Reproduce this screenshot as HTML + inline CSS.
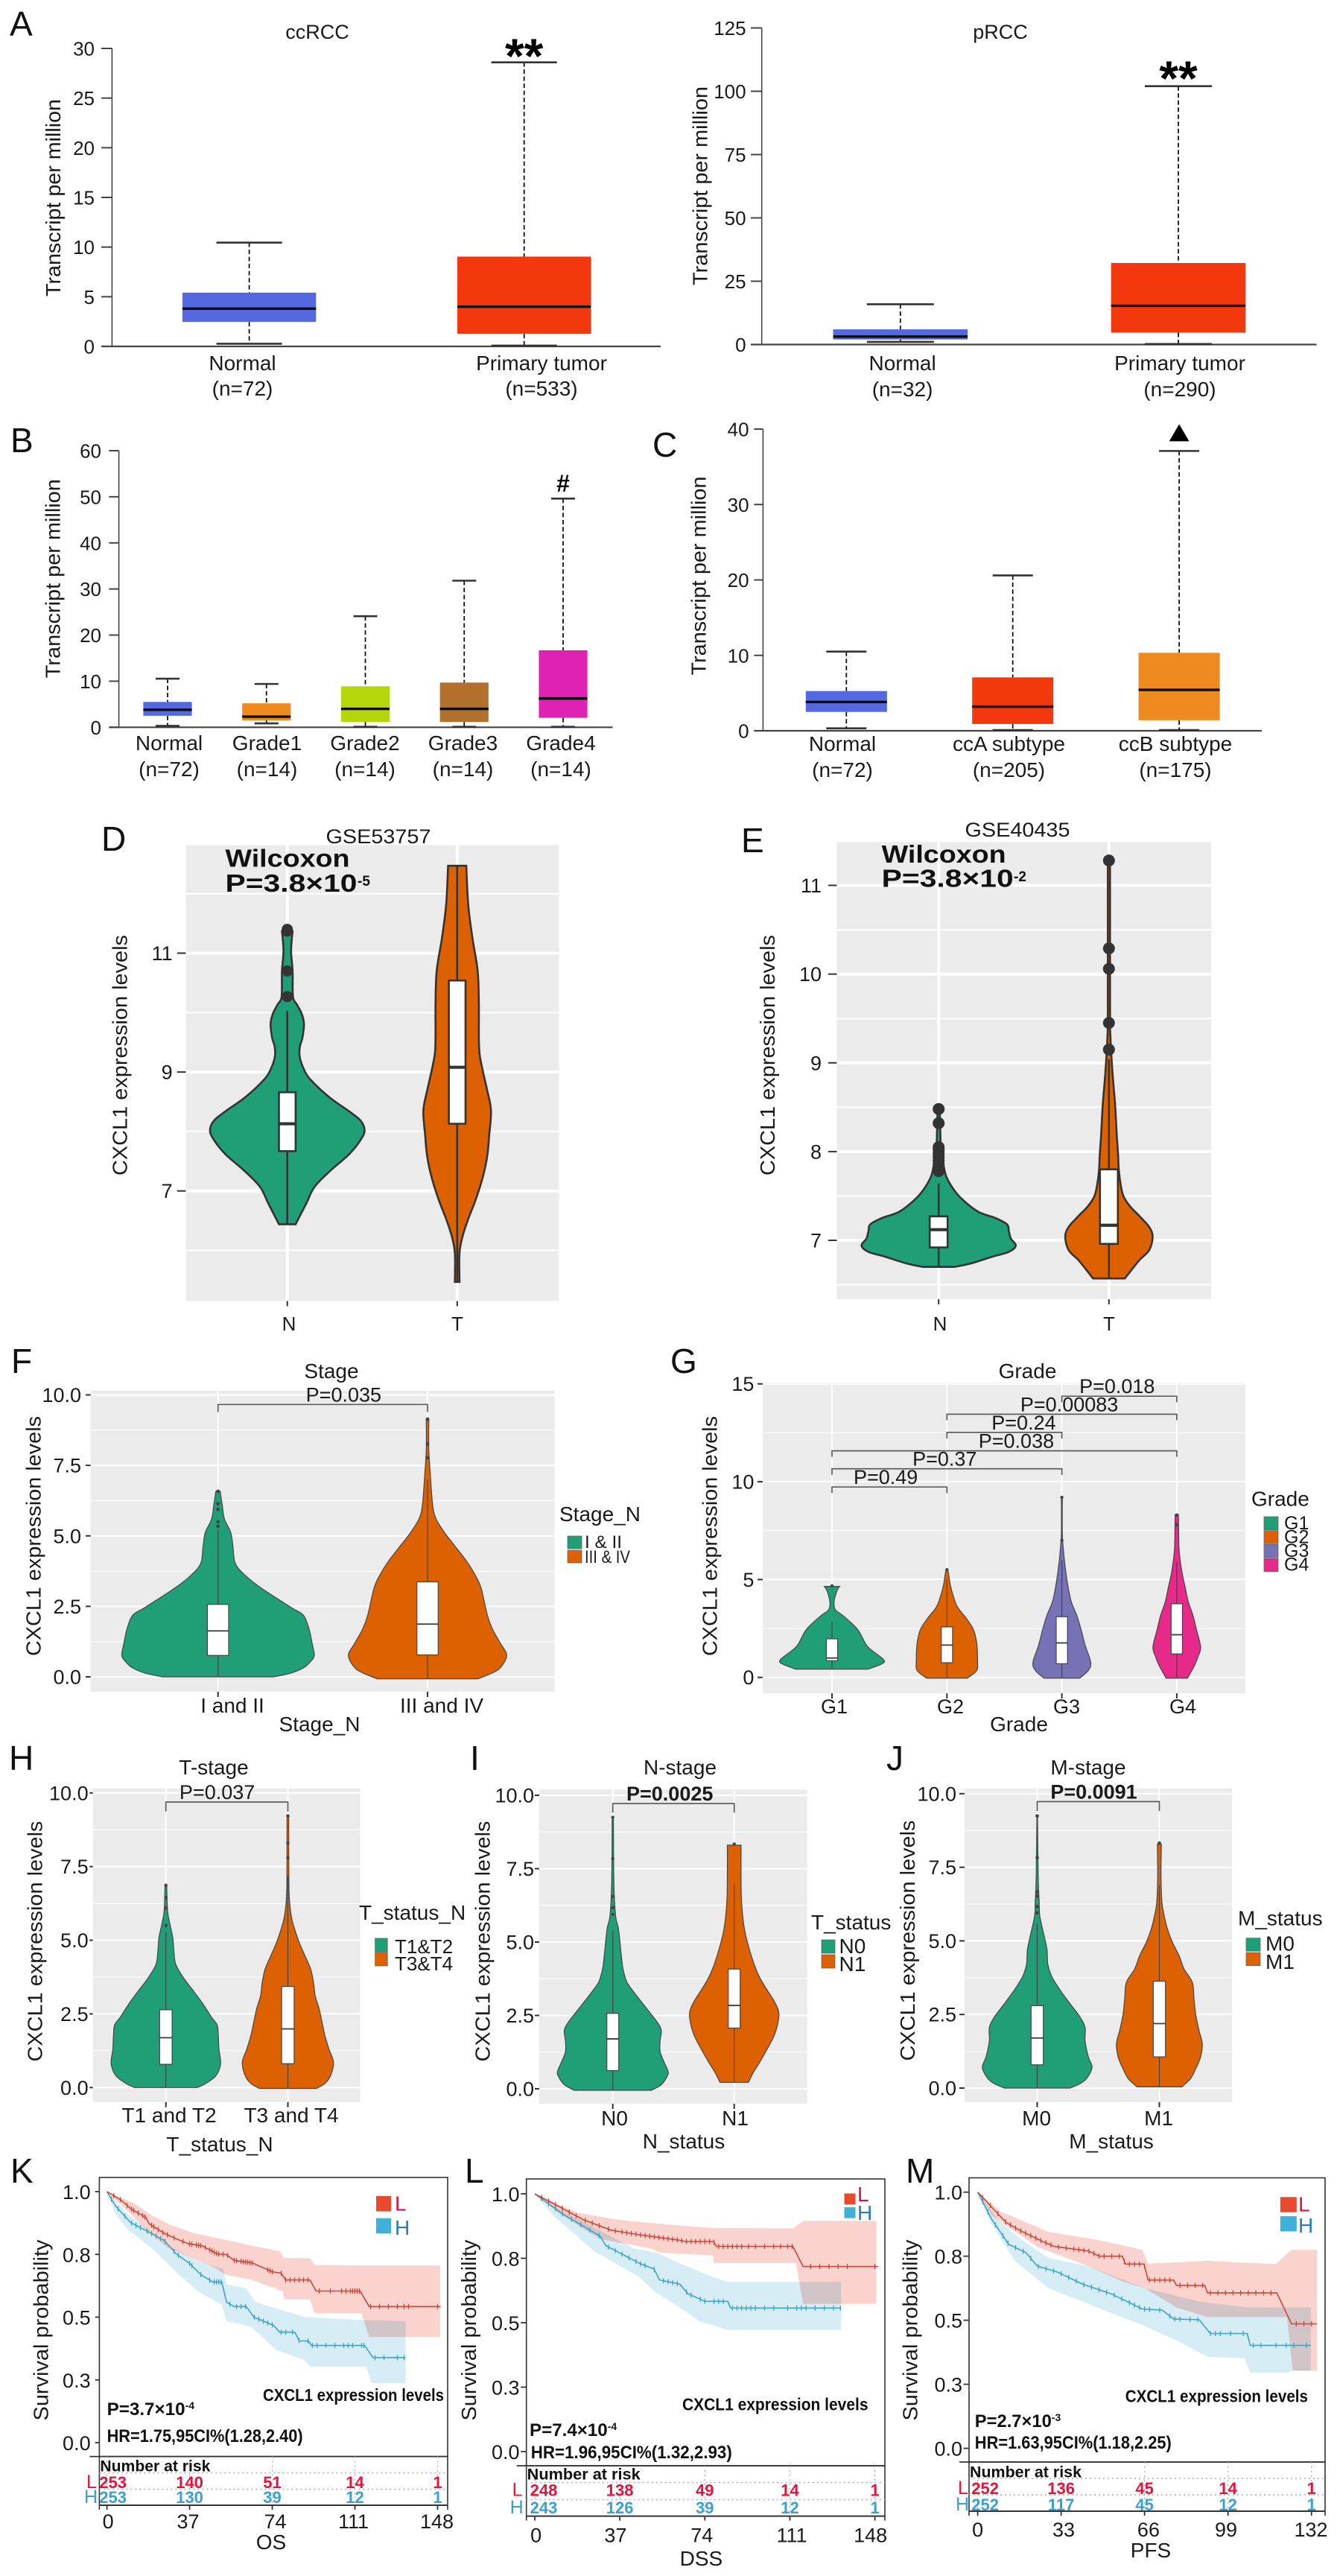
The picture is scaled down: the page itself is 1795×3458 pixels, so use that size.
<!DOCTYPE html>
<html lang="en">
<head>
<meta charset="utf-8">
<title>CXCL1 expression figure</title>
<style>
html,body{margin:0;padding:0;background:#fff;}
svg{display:block;}
text{font-family:"Liberation Sans",sans-serif;}
</style>
</head>
<body>
<svg id="figure" xmlns="http://www.w3.org/2000/svg" width="1795" height="3458" viewBox="0 0 1795 3458">
<rect x="0" y="0" width="1795" height="3458" fill="#ffffff"/>
<g id="panel-a1"></g>
<g id="panel-a2"></g>
<g id="panel-b"></g>
<g id="panel-c"></g>
<g id="panel-d"></g>
<g id="panel-e"></g>
<g id="panel-f"></g>
<g id="panel-g"></g>
<g id="panel-h"></g>
<g id="panel-i"></g>
<g id="panel-j"></g>
<g id="panel-k"></g>
<g id="panel-l"></g>
<g id="panel-m"></g>
</svg>
<script>
/* ---------- Panel A, B, C box plot data ---------- */
const a1Categories=['Normal','Primary tumor'];
const a1Counts=['(n=72)','(n=533)'];
const a1Ticks=[0,5,10,15,20,25,30];
const a1Low=[0.27,0.08];
const a1Q1=[2.46,1.26];
const a1Median=[3.8,4.0];
const a1Q3=[5.41,9.04];
const a1High=[10.45,28.6];

const a2Categories=['Normal','Primary tumor'];
const a2Counts=['(n=32)','(n=290)'];
const a2Ticks=[0,25,50,75,100,125];
const a2Low=[1.05,0.2];
const a2Q1=[2,4.7];
const a2Median=[3.15,15.3];
const a2Q3=[6,32.2];
const a2High=[15.9,102];

const bCategories=['Normal','Grade1','Grade2','Grade3','Grade4'];
const bCounts=['(n=72)','(n=14)','(n=14)','(n=14)','(n=14)'];
const bTicks=[0,10,20,30,40,50,60];
const bLow=[0.3,0.85,0.1,0.1,0.1];
const bQ1=[2.5,1.5,1.15,1.15,2.05];
const bMedian=[3.8,2.3,4,4,6.25];
const bQ3=[5.5,5.2,8.9,9.7,16.7];
const bHigh=[10.55,9.4,24.1,31.8,49.6];

const cCategories=['Normal','ccA subtype','ccB subtype'];
const cCounts=['(n=72)','(n=205)','(n=175)'];
const cTicks=[0,10,20,30,40];
const cLow=[0.33,0.1,0.1];
const cQ1=[2.5,0.9,1.4];
const cMedian=[3.82,3.2,5.43];
const cQ3=[5.27,7.08,10.34];
const cHigh=[10.5,20.6,37.1];

/* ---------- Panel D violin data ---------- */
const dCategories=['N','T'];
const dTicks=[7,9,11];
const dNLevels=[6.44,6.79,7.07,7.35,7.63,7.91,8.05,8.19,8.33,8.58,8.86,9.03,9.25,9.42,9.58,9.81,9.98,10.14,10.27,10.7,11.04,11.37];
const dNDensity=[0.22,0.5,0.72,1.15,1.65,1.98,2.03,1.92,1.65,1.1,0.63,0.45,0.33,0.33,0.4,0.44,0.38,0.25,0.15,0.14,0.1,0.14];
const dNBox=[7.67,8.13,8.66];
const dNWhisker=[6.44,10.03];
const dNOutliers=[10.27,10.7,11.37,11.4];
const dTLevels=[5.47,5.95,6.23,6.51,6.79,7.07,7.35,7.63,7.91,8.35,8.69,9.03,9.3,9.58,10.14,10.7,11.26,11.82,12.47];
const dTDensity=[0.06,0.06,0.14,0.28,0.45,0.6,0.72,0.8,0.84,0.89,0.79,0.67,0.59,0.57,0.57,0.54,0.4,0.29,0.24];
const dTBox=[8.13,9.08,10.54];
const dTWhisker=[5.47,12.47];
const dTOutliers=[];

/* ---------- Panel E violin data ---------- */
const eCategories=['N','T'];
const eTicks=[7,8,9,10,11];
const eNLevels=[6.7,6.74,6.82,6.87,6.94,7.02,7.1,7.18,7.25,7.32,7.45,7.57,7.72,7.87,8.01,8.31,8.46];
const eNDensity=[0.42,0.85,1.45,1.85,2.03,1.9,1.85,1.8,1.5,1.05,0.65,0.4,0.2,0.12,0.06,0.04,0.03];
const eNBox=[6.92,7.12,7.27];
const eNWhisker=[6.7,7.64];
const eNOutliers=[7.78,7.82,7.86,7.9,7.94,7.98,8.02,8.05,8.32,8.48];
const eTLevels=[6.57,6.67,6.78,6.89,7.04,7.15,7.27,7.38,7.49,7.6,7.79,7.98,8.16,8.54,8.91,9.29,9.6,11.28];
const eTDensity=[0.42,0.6,0.81,1.06,1.15,1.06,0.81,0.56,0.39,0.32,0.26,0.24,0.21,0.16,0.09,0.04,0.03,0.03];
const eTBox=[6.96,7.17,7.8];
const eTWhisker=[6.57,9.04];
const eTOutliers=[9.15,9.45,10.06,10.29,11.28];

/* ---------- Panel F violin data ---------- */
const fCategories=['I and II','III and IV'];
const fTicks=[0,2.5,5,7.5,10];
const fTickLabels=['0.0','2.5','5.0','7.5','10.0'];
const fALevels=[0,0.13,0.32,0.52,0.76,1.2,1.69,2.18,2.47,3.16,3.65,4.04,4.62,5.11,5.6,6.09,6.58];
const fADensity=[1.3,1.7,2,2.15,2.25,2.2,2.13,2,1.7,1,0.6,0.4,0.35,0.3,0.15,0.1,0.05];
const fABox=[0.76,1.63,2.57];
const fAWhisker=[0,5.2];
const fAOutliers=[5.34,5.5,5.94,6.14,6.58];
const fBLevels=[-0.07,0.13,0.32,0.76,1.2,1.69,2.18,3.16,3.65,4.13,4.62,5.11,5.6,6.09,7.07,8.05,9.12];
const fBDensity=[1.18,1.5,1.7,1.85,1.7,1.52,1.4,1.25,1.1,0.9,0.65,0.4,0.2,0.12,0.07,0.03,0.03];
const fBBox=[0.78,1.87,3.37];
const fBWhisker=[-0.07,7];
const fBOutliers=[7.77,8.26,9.14];

/* ---------- Panel G violin data ---------- */
const gCategories=['G1','G2','G3','G4'];
const gTicks=[0,5,10,15];
const g1Levels=[0.42,0.7,0.89,1.2,1.62,2.46,3.17,3.45,3.87,4.44,4.65];
const g1Density=[0.85,1.18,1.22,1.05,0.82,0.6,0.25,0.08,0.05,0.12,0.18];
const g1Box=[0.85,0.99,1.97];
const g1Whisker=[0.42,2.82];
const g1Outliers=[4.68];
const g2Levels=[-0.04,0.35,0.85,1.76,2.46,3.03,3.59,4.15,4.72,5.28,5.49];
const g2Density=[0.48,0.7,0.72,0.7,0.62,0.45,0.25,0.15,0.08,0.04,0.02];
const g2Box=[0.75,1.65,2.58];
const g2Whisker=[-0.04,5];
const g2Outliers=[5.5];
const g3Levels=[-0.04,0.35,0.77,1.62,2.46,3.17,3.87,4.58,5.28,5.99,6.69,7.39,9.2];
const g3Density=[0.42,0.62,0.68,0.55,0.45,0.35,0.22,0.15,0.1,0.06,0.03,0.01,0.01];
const g3Box=[0.7,1.76,3.1];
const g3Whisker=[-0.04,6];
const g3Outliers=[7,9.2];
const g4Levels=[-0.04,0.63,1.06,1.55,2.46,3.17,3.87,4.58,5.28,5.99,6.69,8.1,8.31];
const g4Density=[0.25,0.42,0.5,0.56,0.46,0.38,0.27,0.2,0.13,0.08,0.05,0.04,0.04];
const g4Box=[1.2,2.18,3.76];
const g4Whisker=[-0.04,5.9];
const g4Outliers=[7.8,8.3];
const gBracketFrom=[0,0,0,1,1,2];
const gBracketTo=[1,2,3,2,3,3];
const gBracketLevel=[9.73,10.66,11.58,12.52,13.45,14.37];
const gBracketLabels=['P=0.49','P=0.37','P=0.038','P=0.24','P=0.00083','P=0.018'];

/* ---------- Panel H violin data ---------- */
const hCategories=['T1 and T2','T3 and T4'];
const hTicks=[0,2.5,5,7.5,10];
const hTickLabels=['0.0','2.5','5.0','7.5','10.0'];
const hALevels=[0,0.14,0.41,0.81,1.31,1.76,2.12,2.39,2.84,3.29,3.75,4.2,4.65,5.1,5.55,6,6.9];
const hADensity=[0.55,0.7,0.88,0.96,0.93,0.92,0.9,0.8,0.65,0.48,0.3,0.17,0.14,0.12,0.07,0.03,0.015];
const hABox=[0.79,1.69,2.64];
const hAWhisker=[0,5.3];
const hAOutliers=[5.5,6.09,6.45,6.86];
const hBLevels=[-0.03,0.14,0.41,0.86,1.31,1.76,2.21,2.66,3.11,3.57,4.02,4.47,4.92,5.37,5.82,6.72,9.25];
const hBDensity=[0.5,0.65,0.75,0.8,0.72,0.65,0.6,0.55,0.48,0.45,0.4,0.3,0.2,0.12,0.06,0.02,0.015];
const hBBox=[0.81,1.99,3.43];
const hBWhisker=[-0.03,7.2];
const hBOutliers=[7.8,8.3,9.22];

/* ---------- Panel I violin data ---------- */
const iCategories=['N0','N1'];
const iTicks=[0,2.5,5,7.5,10];
const iTickLabels=['0.0','2.5','5.0','7.5','10.0'];
const iALevels=[-0.05,0.14,0.41,0.59,0.91,1.27,1.63,1.99,2.27,2.72,3.17,3.63,4.08,4.53,5.44,5.89,6.98,9.25];
const iADensity=[0.68,0.85,0.95,0.97,0.9,0.83,0.83,0.85,0.78,0.6,0.42,0.25,0.18,0.15,0.1,0.05,0.02,0.01];
const iABox=[0.62,1.7,2.57];
const iAWhisker=[-0.05,5.4];
const iAOutliers=[5.94,6.17,6.55,7.84,9.25];
const iBLevels=[0.22,0.54,0.91,1.36,1.81,2.27,2.63,2.99,3.45,3.9,4.53,5.44,6.35,7.25,8.3];
const iBDensity=[0.25,0.33,0.45,0.58,0.7,0.77,0.78,0.7,0.55,0.42,0.3,0.18,0.13,0.12,0.12];
const iBBox=[2.07,2.84,4.08];
const iBWhisker=[0.22,7];
const iBOutliers=[8.34];

/* ---------- Panel J violin data ---------- */
const jCategories=['M0','M1'];
const jTicks=[0,2.5,5,7.5,10];
const jTickLabels=['0.0','2.5','5.0','7.5','10.0'];
const jALevels=[0,0.15,0.33,0.7,1.06,1.6,2.05,2.41,2.86,3.32,3.77,4.22,4.67,5.12,5.84,6.3,7.2,9.2];
const jADensity=[1,1.3,1.5,1.66,1.55,1.45,1.45,1.3,1,0.7,0.45,0.32,0.3,0.22,0.08,0.06,0.03,0.01];
const jABox=[0.79,1.7,2.8];
const jAWhisker=[0,5.6];
const jAOutliers=[5.95,6.16,6.52,6.66,7.83,9.24];
const jBLevels=[0.04,0.33,0.7,1.06,1.51,1.96,2.5,3.04,3.59,4.04,4.49,4.94,5.39,5.84,6.3,7.2,8.28];
const jBDensity=[0.68,0.95,1.12,1.25,1.3,1.2,1.1,1.05,1,0.75,0.6,0.4,0.25,0.15,0.08,0.05,0.06];
const jBBox=[1.06,2.19,3.63];
const jBWhisker=[0.04,6.9];
const jBOutliers=[8.32];

/* ---------- Panel K survival data ---------- */
const kTimeTicks=[0,37,74,111,148];
const kSurvTicks=[0,0.25,0.5,0.75,1];
const kSurvLabels=['0.0','0.3','0.5','0.8','1.0'];
const kRiskLow=[253,140,51,14,1];
const kRiskHigh=[253,130,39,12,1];
const kLowTime=[0,6.5,10.6,17.4,18.8,25.6,29.7,36.5,42.6,49.4,53.5,56.9,65,73.9,78,80,90.9,93.6,113.3,117.4,149.4];
const kLowSurv=[1,0.965,0.932,0.897,0.872,0.834,0.817,0.792,0.784,0.752,0.749,0.726,0.716,0.681,0.675,0.648,0.648,0.604,0.604,0.542,0.542];
const kLowUpTime=[0,12,20.1,28.3,39.2,54.1,65,77.3,79.4,90.9,92.9,115.3,149.1];
const kLowUpSurv=[1,0.954,0.905,0.867,0.834,0.806,0.784,0.763,0.735,0.735,0.708,0.706,0.706];
const kLowDownTime=[0,10.6,17.4,26.9,36.5,47.3,52.8,65,78.6,79.4,90.9,92.9,113.9,117.4,149.1];
const kLowDownSurv=[1,0.91,0.85,0.779,0.741,0.702,0.67,0.648,0.604,0.571,0.571,0.516,0.516,0.421,0.421];
const kHighTime=[0,3.8,10.6,17.4,25.6,31,37.1,41.9,47.3,51.4,53.5,56.9,62.4,65.7,74.6,77.3,84.1,86.1,90.2,91.6,115.3,119.1,133.7];
const kHighSurv=[1,0.943,0.877,0.845,0.806,0.752,0.713,0.67,0.64,0.64,0.56,0.542,0.542,0.5,0.467,0.44,0.44,0.405,0.405,0.387,0.387,0.339,0.339];
const kHighUpTime=[0,9.3,20.1,29.7,39.2,52.1,53.5,62.4,66.4,78.6,88.8,114,133.7];
const kHighUpSurv=[1,0.91,0.839,0.774,0.73,0.691,0.631,0.615,0.56,0.527,0.5,0.489,0.484];
const kHighDownTime=[0,3.8,9.3,20.1,29.7,40.5,51.4,53.5,64.4,75.9,88.2,90.9,116.1,118.4,133.7];
const kHighDownSurv=[1,0.91,0.85,0.774,0.691,0.604,0.549,0.484,0.462,0.369,0.33,0.303,0.303,0.237,0.237];
const kLowCensor=[3,6,9,11,12,14,16,17,20,21,23,25,27,30,34,37,38,40,41,42,44,46,47,48,49,50,52,54,57,58,60,61,62,63,64,65,72,73,74,78,80,82,84,86,88,90,95,100,105,107,109,110,111,112,113,118,122,126,130,133,135,148];
const kHighCensor=[2,5,8,11,13,15,18,20,22,24,26,30,32,37,38,42,46,48,49,50,51,55,58,60,62,66,68,70,72,74,78,80,83,86,90,92,94,98,102,106,108,110,114,115,120,124,130,133];

/* ---------- Panel L survival data ---------- */
const lTimeTicks=[0,37,74,111,148];
const lSurvTicks=[0,0.25,0.5,0.75,1];
const lSurvLabels=['0.0','0.3','0.5','0.8','1.0'];
const lRiskLow=[248,138,49,14,1];
const lRiskHigh=[243,126,39,12,1];
const lLowTime=[0,11.1,21,33.3,45.7,63,65.4,77.8,79,112.3,116.8,149.4];
const lLowSurv=[1,0.948,0.9,0.859,0.841,0.82,0.815,0.815,0.796,0.796,0.718,0.718];
const lLowUpTime=[0,18.5,35.8,60.5,77.8,112.3,116.8,148.6];
const lLowUpSurv=[1,0.927,0.9,0.879,0.868,0.866,0.895,0.895];
const lLowDownTime=[0,11.1,28.4,50.6,54.3,77.8,77.8,113.6,116.8,148.6];
const lLowDownSurv=[1,0.921,0.825,0.788,0.772,0.761,0.732,0.732,0.573,0.573];
const lHighTime=[0,12.3,28.4,30.9,45.7,51.9,54.3,63,66.7,74.1,84,85.2,133.3];
const lHighSurv=[1,0.921,0.836,0.799,0.73,0.708,0.666,0.65,0.612,0.583,0.583,0.557,0.557];
const lHighUpTime=[0,11.1,28.4,43.2,53.1,63,77.8,84,133.3];
const lHighUpSurv=[1,0.937,0.857,0.788,0.772,0.73,0.676,0.658,0.658];
const lHighDownTime=[0,8.6,25.9,45.7,51.9,63,71.6,84,133.3];
const lHighDownSurv=[1,0.911,0.777,0.676,0.623,0.559,0.506,0.472,0.472];
const lLowCensor=[3,6,9,12,15,18,22,25,28,32,35,38,40,42,44,46,48,50,52,54,56,58,60,62,64,66,68,70,72,74,76,78,80,82,84,86,88,90,93,96,100,104,107,110,112,120,124,128,132,136,148];
const lHighCensor=[3,6,9,12,16,20,24,28,32,35,38,41,44,46,48,52,56,58,60,62,66,68,72,74,78,80,82,86,88,90,92,94,96,100,104,110,114,116,118,122,126,130,133];

/* ---------- Panel M survival data ---------- */
const mTimeTicks=[0,33,66,99,132];
const mSurvTicks=[0,0.25,0.5,0.75,1];
const mSurvLabels=['0.0','0.3','0.5','0.8','1.0'];
const mRiskLow=[252,136,45,14,1];
const mRiskHigh=[252,117,45,12,1];
const mLowTime=[0,5.6,11.2,16.8,25.8,30.3,43.8,48.2,57.2,58.4,65.8,67.4,77.5,78.6,89.8,90.9,118.3,124.1,134.2];
const mLowSurv=[1,0.941,0.882,0.85,0.807,0.788,0.77,0.75,0.75,0.719,0.719,0.657,0.657,0.636,0.636,0.607,0.607,0.486,0.486];
const mLowUpTime=[0,9,28,48.3,65.1,67.4,90.9,117.9,124.1,134.2];
const mLowUpSurv=[1,0.925,0.845,0.812,0.775,0.721,0.732,0.719,0.775,0.775];
const mLowDownTime=[0,5.6,23.6,43.8,57.2,66.2,78.6,90.9,122.3,124.6,134.2];
const mLowDownSurv=[1,0.909,0.786,0.711,0.652,0.625,0.55,0.512,0.512,0.303,0.303];
const mHighTime=[0,5.6,12.3,19.1,23.6,31.4,41.5,52.8,65.1,73,77.5,87.6,92,106.6,107.8,131.8];
const mHighSurv=[1,0.893,0.796,0.764,0.711,0.689,0.641,0.603,0.544,0.539,0.505,0.502,0.448,0.448,0.402,0.402];
const mHighUpTime=[0,7.9,16.8,28,43.8,66.2,88.7,106.6,131.8];
const mHighUpSurv=[1,0.893,0.818,0.743,0.711,0.625,0.571,0.55,0.55];
const mHighDownTime=[0,4.5,14.6,28,52.8,64,78.6,90.9,105.5,107.8,122.3,124.6,131.8];
const mHighDownSurv=[1,0.893,0.732,0.625,0.528,0.486,0.421,0.357,0.352,0.295,0.295,0.303,0.303];
const mLowCensor=[2,5,8,11,13,15,17,19,21,23,25,27,29,32,35,38,40,42,44,46,48,50,53,56,58,60,62,64,66,68,70,72,74,76,80,83,86,89,92,95,98,101,104,107,110,113,116,126,129,132];
const mHighCensor=[2,4,7,10,12,15,18,21,24,27,30,33,36,39,42,45,48,51,54,57,60,62,64,66,68,72,76,78,80,84,87,92,94,96,100,105,109,112,118,122,125,130];

/* ---------- Drawing helpers ---------- */
const NS='http://www.w3.org/2000/svg';
function add(parent,tag,attrs,name){
  const node=document.createElementNS(NS,tag);
  for(const key in attrs){node.setAttribute(key,attrs[key]);}
  
  
  parent.appendChild(node);
  return node;
}
function label(parent,x,y,str,opts,name){
  const o=opts||{};
  const attrs={x:x,y:y,'font-size':o.fs||26,'text-anchor':o.anchor||'middle',fill:o.fill||'#1a1a1a'};
  if(o.bold){attrs['font-weight']='700';}
  if(o.w){attrs['textLength']=o.w;attrs['lengthAdjust']='spacingAndGlyphs';}
  if(o.rot){attrs['transform']='rotate('+o.rot+' '+x+' '+y+')';}
  const node=add(parent,'text',attrs,name);
  node.textContent=str;
  return node;
}
function line(parent,x1,y1,x2,y2,stroke,width,name,dash){
  const attrs={x1:x1,y1:y1,x2:x2,y2:y2,stroke:stroke,'stroke-width':width};
  if(dash){attrs['stroke-dasharray']=dash;}
  return add(parent,'line',attrs,name);
}
function linear(domain,range){
  return function(v){return range[0]+(v-domain[0])*(range[1]-range[0])/(domain[1]-domain[0]);};
}
function yAxisTitle(parent,cx,cy,str,w,fs){
  label(parent,cx+(fs||28)*0.3,cy,str,{fs:fs||28,w:w,rot:-90},'y-axis-title');
}
function panelLetter(parent,x,y,str){
  label(parent,x,y,str,{fs:46,anchor:'start',fill:'#111'},'panel-letter-'+str.toLowerCase());
}

/* ---------- Box plot panels ---------- */
function drawBoxPanel(id,c){
  const g=document.getElementById(id);
  const Y=linear(c.yDomain,c.yRange);
  const X=function(i){return c.firstX+c.stepX*i;};
  const ticks=c.ticks;
  line(g,c.axisX,Y(ticks[ticks.length-1]),c.axisX,Y(0),'#444',1.6,'y-axis-line');
  line(g,c.tickStart,Y(0),c.axisRight,Y(0),'#444',2.2,'x-axis-line');
  ticks.forEach(function(t){
    line(g,c.tickStart,Y(t),c.axisX,Y(t),'#444',2,'y-tick-'+t);
    label(g,c.tickLabelRight,Y(t)+9.5,String(t),{fs:26,anchor:'end'},'y-tick-label-'+t);
  });
  c.categories.forEach(function(cat,i){
    const x=X(i);
    const key=cat.toLowerCase().replace(/\s+/g,'-');
    line(g,x,Y(c.high[i]),x,Y(c.q3[i]),'#111',1.8,'whisker-upper-'+key,'6 3.5');
    line(g,x,Y(c.q1[i]),x,Y(c.low[i]),'#111',1.8,'whisker-lower-'+key,'6 3.5');
    line(g,x-c.capHalf,Y(c.high[i]),x+c.capHalf,Y(c.high[i]),'#333',2.6,'whisker-cap-upper-'+key);
    line(g,x-c.capHalf,Y(c.low[i]),x+c.capHalf,Y(c.low[i]),'#333',2.6,'whisker-cap-lower-'+key);
    add(g,'rect',{x:x-c.boxHalf,y:Y(c.q3[i]),width:c.boxHalf*2,height:Y(c.q1[i])-Y(c.q3[i]),fill:c.colors[i]},'box-'+key);
    line(g,x-c.boxHalf,Y(c.median[i]),x+c.boxHalf,Y(c.median[i]),'#0c0c0c',3.4,'median-'+key);
    const lx=c.labelFirst+c.labelStep*i;
    label(g,lx,c.labelY,cat,{fs:28},'category-label-'+key);
    label(g,lx,c.countY,c.counts[i],{fs:28},'sample-count-'+key);
  });
  return {g:g,X:X,Y:Y};
}

const a1=drawBoxPanel('panel-a1',{categories:a1Categories,counts:a1Counts,ticks:a1Ticks,low:a1Low,q1:a1Q1,median:a1Median,q3:a1Q3,high:a1High,
  colors:['#5468e0','#f4380e'],yDomain:[0,30],yRange:[465,65],firstX:334.6,stepX:369.1,boxHalf:89.7,capHalf:44,axisX:150.4,tickStart:136,axisRight:887,tickLabelRight:127,labelFirst:325.5,labelStep:401.5,labelY:497,countY:531});
label(a1.g,426,52,'ccRCC',{fs:27},'chart-title');
yAxisTitle(a1.g,72.5,265.5,'Transcript per million',265);
label(a1.g,a1.X(1),98,'**',{fs:66,bold:true,fill:'#000'},'significance-marker');
panelLetter(a1.g,13,48,'A');

const a2=drawBoxPanel('panel-a2',{categories:a2Categories,counts:a2Counts,ticks:a2Ticks,low:a2Low,q1:a2Q1,median:a2Median,q3:a2Q3,high:a2High,
  colors:['#5468e0','#f4380e'],yDomain:[0,125],yRange:[462.5,37.5],firstX:1208.8,stepX:373.2,boxHalf:90.3,capHalf:45,axisX:1022.7,tickStart:1008,axisRight:1767.6,tickLabelRight:1001.6,labelFirst:1211.6,labelStep:372.4,labelY:497,countY:532});
label(a2.g,1343,52,'pRCC',{fs:27},'chart-title');
yAxisTitle(a2.g,941,249.5,'Transcript per million',267);
label(a2.g,a2.X(1),128,'**',{fs:66,bold:true,fill:'#000'},'significance-marker');

const bPanel=drawBoxPanel('panel-b',{categories:bCategories,counts:bCounts,ticks:bTicks,low:bLow,q1:bQ1,median:bMedian,q3:bQ3,high:bHigh,
  colors:['#5468e0','#ef8a20','#b5d60b','#b2702c','#e022b4'],yDomain:[0,60],yRange:[976.3,605],firstX:225,stepX:132.75,boxHalf:32.6,capHalf:16,axisX:159.6,tickStart:146.4,axisRight:822.5,tickLabelRight:136,labelFirst:227,labelStep:131.5,labelY:1007,countY:1042});
yAxisTitle(bPanel.g,72,776.7,'Transcript per million',267);
label(bPanel.g,bPanel.X(4),660,'#',{fs:32,bold:true,fill:'#000'},'significance-marker');
panelLetter(bPanel.g,14,607,'B');

const cPanel=drawBoxPanel('panel-c',{categories:cCategories,counts:cCounts,ticks:cTicks,low:cLow,q1:cQ1,median:cMedian,q3:cQ3,high:cHigh,
  colors:['#5468e0','#f4380e','#ef8a20'],yDomain:[0,40],yRange:[981,576],firstX:1136.3,stepX:223.4,boxHalf:54.5,capHalf:27,axisX:1024.4,tickStart:1012.4,axisRight:1694,tickLabelRight:1005.6,labelFirst:1131,labelStep:223.5,labelY:1008,countY:1043});
yAxisTitle(cPanel.g,939,773,'Transcript per million',267);
const triX=cPanel.X(2);
const triBase=cPanel.Y(cHigh[2])-13;
add(cPanel.g,'polygon',{points:(triX-13.4)+','+triBase+' '+(triX+13.4)+','+triBase+' '+triX+','+(triBase-23),fill:'#000'},'significance-triangle');
panelLetter(cPanel.g,876,613,'C');

/* ---------- Violin panels ---------- */
function smoothThrough(pts){
  let d='';
  for(let i=0;i<pts.length-1;i++){
    const p0=pts[Math.max(i-1,0)],p1=pts[i],p2=pts[i+1],p3=pts[Math.min(i+2,pts.length-1)];
    const c1x=p1[0]+(p2[0]-p0[0])/6,c1y=p1[1]+(p2[1]-p0[1])/6;
    const c2x=p2[0]-(p3[0]-p1[0])/6,c2y=p2[1]-(p3[1]-p1[1])/6;
    d+='C'+c1x.toFixed(1)+' '+c1y.toFixed(1)+' '+c2x.toFixed(1)+' '+c2y.toFixed(1)+' '+p2[0].toFixed(1)+' '+p2[1].toFixed(1);
  }
  return d;
}
function drawViolinPanel(id,c){
  const g=document.getElementById(id);
  const Y=linear(c.yDomain,c.yRange);
  const X=function(i){return c.firstX+c.stepX*i;};
  const p=c.plot;
  add(g,'rect',{x:p.x,y:p.y,width:p.w,height:p.h,fill:'#ebebeb'},'plot-background');
  const ticks=c.ticks;
  const step=ticks[1]-ticks[0];
  for(let k=-1;k<ticks.length;k++){
    const v=ticks[0]+step*(k+0.5);
    const yy=Y(v);
    if(yy>p.y&&yy<p.y+p.h){line(g,p.x,yy,p.x+p.w,yy,'#fff',c.gridMinor,'grid-minor-'+v);}
  }
  ticks.forEach(function(t,k){
    const yy=Y(t);
    line(g,p.x,yy,p.x+p.w,yy,'#fff',c.gridMajor,'grid-major-'+t);
    line(g,p.x-c.tickLen,yy,p.x,yy,'#333',2,'y-tick-'+t);
    const text=c.tickLabels?c.tickLabels[k]:String(t);
    label(g,c.tickLabelRight,yy+9.5,text,{fs:27,anchor:'end'},'y-tick-label-'+text);
  });
  c.categories.forEach(function(cat,i){
    const x=X(i);
    const key=cat.toLowerCase().replace(/\s+/g,'-');
    line(g,x,p.y,x,p.y+p.h,'#fff',c.gridMajor,'grid-vertical-'+key);
    line(g,x,p.y+p.h,x,p.y+p.h+7,'#333',2,'x-tick-'+key);
    label(g,c.labelFirst+c.labelStep*i,c.labelY,cat,{fs:c.labelFs||28},'x-tick-label-'+key);
    const v=c.violins[i];
    const left=v.levels.map(function(l,j){return [x-v.density[j]*c.widthScale,Y(l)];});
    const right=v.levels.map(function(l,j){return [x+v.density[j]*c.widthScale,Y(l)];}).reverse();
    const d='M'+left[0][0].toFixed(1)+' '+left[0][1].toFixed(1)+smoothThrough(left)+'L'+right[0][0].toFixed(1)+' '+right[0][1].toFixed(1)+smoothThrough(right)+'Z';
    add(g,'path',{d:d,fill:c.colors[i],stroke:c.outline,'stroke-width':c.strokeWidth},'violin-'+key);
    line(g,x,Y(v.whisker[1]),x,Y(v.whisker[0]),c.outline,c.strokeWidth,'whisker-'+key);
    add(g,'rect',{x:x-c.boxHalf,y:Y(v.box[2]),width:c.boxHalf*2,height:Y(v.box[0])-Y(v.box[2]),fill:'#fff',stroke:c.outline,'stroke-width':c.strokeWidth},'box-'+key);
    line(g,x-c.boxHalf,Y(v.box[1]),x+c.boxHalf,Y(v.box[1]),c.outline,c.strokeWidth*1.6,'median-'+key);
    v.outliers.forEach(function(o){
      add(g,'circle',{cx:x,cy:Y(o),r:c.outlierR,fill:c.outline},'outlier-'+key);
    });
  });
  return {g:g,X:X,Y:Y};
}
function drawBracket(r,i1,i2,level,drop,text,nudge,bold){
  const y=r.Y(level),yb=r.Y(level-drop);
  const x1=r.X(i1),x2=r.X(i2);
  add(r.g,'polyline',{points:x1+','+yb+' '+x1+','+y+' '+x2+','+y+' '+x2+','+yb,fill:'none',stroke:'#555','stroke-width':1.6},'comparison-bracket');
  label(r.g,(x1+x2)/2+nudge,y-4,text,{fs:27,bold:!!bold},'comparison-p-value');
}
function drawLegend(g,c){
  label(g,c.titleX,c.titleY,c.title,{fs:28,anchor:'start'},'legend-title');
  c.entries.forEach(function(entry,i){
    add(g,'rect',{x:c.swatchX,y:c.swatchY+c.step*i,width:c.swatchW,height:c.swatchH,fill:c.colors[i],stroke:'#666','stroke-width':0.8},'legend-swatch-'+i);
    label(g,c.labelX,c.labelY+c.labelStep*i,entry,{fs:c.fs,anchor:'start',w:c.widths?c.widths[i]:undefined},'legend-entry-'+i);
  });
}
const TEAL='#1f9e78',ORANGE='#dd6100',PURPLE='#7772b6',PINK='#e7298a';

const dPanel=drawViolinPanel('panel-d',{plot:{x:249.5,y:1134.5,w:501,h:612},categories:dCategories,ticks:dTicks,yDomain:[7,11],yRange:[1598.7,1279.5],firstX:385.7,stepX:228.1,
  violins:[{levels:dNLevels,density:dNDensity,box:dNBox,whisker:dNWhisker,outliers:dNOutliers},{levels:dTLevels,density:dTDensity,box:dTBox,whisker:dTWhisker,outliers:dTOutliers}],
  colors:[TEAL,ORANGE],outline:'#333',strokeWidth:2.6,widthScale:51,boxHalf:11.2,outlierR:7.5,gridMajor:4,gridMinor:2,tickLen:11.7,tickLabelRight:231.6,labelFirst:388,labelStep:226,labelY:1786,labelFs:26});
yAxisTitle(dPanel.g,162,1416.5,'CXCL1 expression levels',323);
label(dPanel.g,508,1132,'GSE53757',{fs:27,w:141},'chart-title');
label(dPanel.g,302.5,1163.5,'Wilcoxon',{fs:33,bold:true,anchor:'start',w:167,fill:'#111'},'test-name');
label(dPanel.g,302.5,1197,'P=3.8×10',{fs:33,bold:true,anchor:'start',w:177,fill:'#111'},'test-p-value');
label(dPanel.g,480,1189,'-5',{fs:19,bold:true,anchor:'start',fill:'#111'},'test-p-exponent');
panelLetter(dPanel.g,136,1142,'D');

const ePanel=drawViolinPanel('panel-e',{plot:{x:1123.5,y:1130.4,w:502.5,h:613.6},categories:eCategories,ticks:eTicks,yDomain:[7,11],yRange:[1665,1188.5],firstX:1260.2,stepX:228.6,
  violins:[{levels:eNLevels,density:eNDensity,box:eNBox,whisker:eNWhisker,outliers:eNOutliers},{levels:eTLevels,density:eTDensity,box:eTBox,whisker:eTWhisker,outliers:eTOutliers}],
  colors:[TEAL,ORANGE],outline:'#333',strokeWidth:2.6,widthScale:51,boxHalf:12,outlierR:8,gridMajor:4,gridMinor:2,tickLen:11.5,tickLabelRight:1103,labelFirst:1262,labelStep:227,labelY:1786,labelFs:26});
yAxisTitle(ePanel.g,1031.6,1416.5,'CXCL1 expression levels',323);
label(ePanel.g,1366,1123,'GSE40435',{fs:27,w:141},'chart-title');
label(ePanel.g,1183.7,1158,'Wilcoxon',{fs:33,bold:true,anchor:'start',w:167,fill:'#111'},'test-name');
label(ePanel.g,1183.7,1190.7,'P=3.8×10',{fs:33,bold:true,anchor:'start',w:177,fill:'#111'},'test-p-value');
label(ePanel.g,1361,1183,'-2',{fs:19,bold:true,anchor:'start',fill:'#111'},'test-p-exponent');
panelLetter(ePanel.g,995,1144,'E');

const fPanel=drawViolinPanel('panel-f',{plot:{x:121.7,y:1867,w:622.8,h:404},categories:fCategories,ticks:fTicks,tickLabels:fTickLabels,yDomain:[0,10],yRange:[2251,1872.5],firstX:292.7,stepX:281.3,
  violins:[{levels:fALevels,density:fADensity,box:fABox,whisker:fAWhisker,outliers:fAOutliers},{levels:fBLevels,density:fBDensity,box:fBBox,whisker:fBWhisker,outliers:fBOutliers}],
  colors:[TEAL,ORANGE],outline:'#444',strokeWidth:1.2,widthScale:57.4,boxHalf:14.3,outlierR:2.4,gridMajor:2,gridMinor:1,tickLen:6.7,tickLabelRight:109,labelFirst:312,labelStep:281,labelY:2299});
yAxisTitle(fPanel.g,46,2062,'CXCL1 expression levels',322);
label(fPanel.g,445,1850,'Stage',{fs:28},'chart-title');
label(fPanel.g,429,2324,'Stage_N',{fs:28},'x-axis-title');
drawBracket(fPanel,0,1,9.66,0.27,'P=0.035',28);
drawLegend(fPanel.g,{title:'Stage_N',titleX:751,titleY:2042,entries:['I & II','III & IV'],colors:[TEAL,ORANGE],swatchX:762,swatchY:2062,swatchW:19,swatchH:17,step:19,labelX:785,labelY:2078,labelStep:20,fs:24,widths:[50,61]});
panelLetter(fPanel.g,15,1843,'F');

const gPanel=drawViolinPanel('panel-g',{plot:{x:1024,y:1856,w:648,h:417},categories:gCategories,ticks:gTicks,yDomain:[0,15],yRange:[2251.7,1857.7],firstX:1117,stepX:154.3,
  violins:[{levels:g1Levels,density:g1Density,box:g1Box,whisker:g1Whisker,outliers:g1Outliers},{levels:g2Levels,density:g2Density,box:g2Box,whisker:g2Whisker,outliers:g2Outliers},{levels:g3Levels,density:g3Density,box:g3Box,whisker:g3Whisker,outliers:g3Outliers},{levels:g4Levels,density:g4Density,box:g4Box,whisker:g4Whisker,outliers:g4Outliers}],
  colors:[TEAL,ORANGE,PURPLE,PINK],outline:'#444',strokeWidth:1.2,widthScale:57.08,boxHalf:7.6,outlierR:2.2,gridMajor:2,gridMinor:1,tickLen:7,tickLabelRight:1012.4,labelFirst:1120,labelStep:156,labelY:2300,labelFs:27});
yAxisTitle(gPanel.g,954,2062,'CXCL1 expression levels',322);
label(gPanel.g,1379.5,1850,'Grade',{fs:28},'chart-title');
label(gPanel.g,1368,2324,'Grade',{fs:28},'x-axis-title');
const gLabelNudges=[-5,-3,16,26,10,-3];
gBracketLabels.forEach(function(text,i){
  drawBracket(gPanel,gBracketFrom[i],gBracketTo[i],gBracketLevel[i],0.31,text,gLabelNudges[i]);
});
drawLegend(gPanel.g,{title:'Grade',titleX:1680,titleY:2021.6,entries:gCategories,colors:[TEAL,ORANGE,PURPLE,PINK],swatchX:1697,swatchY:2036,swatchW:19,swatchH:17.6,step:18.7,labelX:1724,labelY:2053,labelStep:18.5,fs:25});
panelLetter(gPanel.g,900,1843,'G');

const hPanel=drawViolinPanel('panel-h',{plot:{x:124.7,y:2400.7,w:359,h:421},categories:hCategories,ticks:hTicks,tickLabels:hTickLabels,yDomain:[0,10],yRange:[2802.3,2406.8],firstX:222.7,stepX:163.8,
  violins:[{levels:hALevels,density:hADensity,box:hABox,whisker:hAWhisker,outliers:hAOutliers},{levels:hBLevels,density:hBDensity,box:hBBox,whisker:hBWhisker,outliers:hBOutliers}],
  colors:[TEAL,ORANGE],outline:'#444',strokeWidth:1.2,widthScale:76.53,boxHalf:8.4,outlierR:2.2,gridMajor:2,gridMinor:1,tickLen:4.5,tickLabelRight:118.6,labelFirst:227,labelStep:164,labelY:2849});
yAxisTitle(hPanel.g,48,2606,'CXCL1 expression levels',323);
label(hPanel.g,287,2382,'T-stage',{fs:28},'chart-title');
label(hPanel.g,295,2888,'T_status_N',{fs:28},'x-axis-title');
drawBracket(hPanel,0,1,9.69,0.32,'P=0.037',-13);
drawLegend(hPanel.g,{title:'T_status_N',titleX:482,titleY:2577,entries:['T1&T2','T3&T4'],colors:[TEAL,ORANGE],swatchX:503.6,swatchY:2602,swatchW:16.6,swatchH:18,step:19,labelX:530,labelY:2622,labelStep:23,fs:26});
panelLetter(hPanel.g,12,2376,'H');

const iPanel=drawViolinPanel('panel-i',{plot:{x:724,y:2402.5,w:359.7,h:421.5},categories:iCategories,ticks:iTicks,tickLabels:iTickLabels,yDomain:[0,10],yRange:[2804,2410],firstX:822.7,stepX:163,
  violins:[{levels:iALevels,density:iADensity,box:iABox,whisker:iAWhisker,outliers:iAOutliers},{levels:iBLevels,density:iBDensity,box:iBBox,whisker:iBWhisker,outliers:iBOutliers}],
  colors:[TEAL,ORANGE],outline:'#444',strokeWidth:1.2,widthScale:76.53,boxHalf:8,outlierR:2.2,gridMajor:2,gridMinor:1,tickLen:6,tickLabelRight:717,labelFirst:825,labelStep:162,labelY:2853});
yAxisTitle(iPanel.g,649,2606,'CXCL1 expression levels',323);
label(iPanel.g,913,2382,'N-stage',{fs:28},'chart-title');
label(iPanel.g,918,2884,'N_status',{fs:28},'x-axis-title');
drawBracket(iPanel,0,1,9.72,0.31,'P=0.0025',-5,true);
drawLegend(iPanel.g,{title:'T_status',titleX:1089,titleY:2590,entries:iCategories,colors:[TEAL,ORANGE],swatchX:1103,swatchY:2604,swatchW:18,swatchH:18,step:20,labelX:1126.5,labelY:2622,labelStep:24,fs:28});
panelLetter(iPanel.g,631,2376,'I');

const jPanel=drawViolinPanel('panel-j',{plot:{x:1295,y:2400.7,w:359,h:421},categories:jCategories,ticks:jTicks,tickLabels:jTickLabels,yDomain:[0,10],yRange:[2803,2407.8],firstX:1392.5,stepX:164,
  violins:[{levels:jALevels,density:jADensity,box:jABox,whisker:jAWhisker,outliers:jAOutliers},{levels:jBLevels,density:jBDensity,box:jBBox,whisker:jBWhisker,outliers:jBOutliers}],
  colors:[TEAL,ORANGE],outline:'#444',strokeWidth:1.2,widthScale:44.32,boxHalf:8.2,outlierR:2.4,gridMajor:2,gridMinor:1,tickLen:7,tickLabelRight:1284,labelFirst:1391.6,labelStep:164,labelY:2853});
yAxisTitle(jPanel.g,1219.7,2605,'CXCL1 expression levels',323);
label(jPanel.g,1461,2382,'M-stage',{fs:28},'chart-title');
label(jPanel.g,1492,2884,'M_status',{fs:28},'x-axis-title');
drawBracket(jPanel,0,1,9.73,0.32,'P=0.0091',-6,true);
drawLegend(jPanel.g,{title:'M_status',titleX:1662,titleY:2584.5,entries:jCategories,colors:[TEAL,ORANGE],swatchX:1673,swatchY:2601.7,swatchW:19,swatchH:17.5,step:19.4,labelX:1699,labelY:2618.5,labelStep:24.5,fs:28});
panelLetter(jPanel.g,1190,2376,'J');

/* ---------- Survival panels ---------- */
function survivalAt(times,surv,t){
  if(t<=times[0]){return surv[0];}
  for(let i=1;i<times.length;i++){
    if(t<=times[i]){
      return surv[i-1]+(surv[i]-surv[i-1])*(t-times[i-1])/(times[i]-times[i-1]);
    }
  }
  return surv[surv.length-1];
}
function drawSurvivalPanel(id,c){
  const g=document.getElementById(id);
  const X=linear(c.xDomain,c.xRange);
  const Y=linear([0,1],c.yRange);
  const f=c.frame;
  const pathPoints=function(ts,ss){return ts.map(function(t,i){return X(t).toFixed(1)+','+Y(ss[i]).toFixed(1);});};
  [c.low,c.high].forEach(function(s){
    const pts=pathPoints(s.upTime,s.upSurv).concat(pathPoints(s.downTime,s.downSurv).reverse());
    add(g,'polygon',{points:pts.join(' '),fill:s.ribbon,style:'mix-blend-mode:multiply'},'confidence-ribbon-'+s.key);
  });
  [c.high,c.low].forEach(function(s){
    add(g,'polyline',{points:pathPoints(s.time,s.surv).join(' '),fill:'none',stroke:s.line,'stroke-width':1.6},'survival-curve-'+s.key);
    s.censor.forEach(function(t){
      const x=X(t),y=Y(survivalAt(s.time,s.surv,t));
      line(g,x,y-3.5,x,y+3.5,s.line,1.3,'censor-mark-'+s.key);
    });
  });
  add(g,'rect',{x:f.left,y:f.top,width:f.right-f.left,height:f.bottom-f.top,fill:'none',stroke:'#333','stroke-width':1.6},'survival-plot-frame');
  line(g,f.left-13,f.bottom,f.right,f.bottom,'#333',1.8,'risk-table-top-border');
  line(g,f.left,f.riskBottom,f.right,f.riskBottom,'#333',2,'risk-table-bottom-border');
  line(g,f.left,f.bottom,f.left,f.riskBottom+6,'#333',1.6,'risk-table-left-border');
  line(g,f.right,f.bottom,f.right,f.riskBottom+6,'#333',1.6,'risk-table-right-border');
  c.survTicks.forEach(function(v,i){
    line(g,f.left-c.tickLen,Y(v),f.left,Y(v),'#333',1.8,'y-tick-'+c.survLabels[i]);
    label(g,c.tickLabelRight,Y(v)+10,c.survLabels[i],{fs:27,anchor:'end'},'y-tick-label-'+c.survLabels[i]);
  });
  line(g,f.left,c.dotY[0],f.right,c.dotY[0],'#aaa',1.4,'risk-row-guide-low','2 4');
  line(g,f.left,c.dotY[1],f.right,c.dotY[1],'#aaa',1.4,'risk-row-guide-high','2 4');
  c.timeTicks.forEach(function(t,i){
    const x=X(t);
    line(g,x,f.bottom,x,f.riskBottom,'#aaa',1.2,'risk-time-guide-'+t,'2 4');
    line(g,x,f.riskBottom,x,f.riskBottom+6,'#333',1.8,'x-tick-'+t);
    label(g,x+c.tickLabelNudge[i],c.tickLabelY,String(t),{fs:27},'x-tick-label-'+t);
    const rx=i===0?x+c.firstRiskNudge:x;
    label(g,rx,c.riskY[0],String(c.low.risk[i]),{fs:22,bold:true,fill:'#e0143c'},'risk-count-low-'+t);
    label(g,rx,c.riskY[1],String(c.high.risk[i]),{fs:22,bold:true,fill:'#3aa0d0'},'risk-count-high-'+t);
  });
  label(g,c.riskLabelX,c.riskY[0],'L',{fs:25,anchor:'start',fill:'#e0143c'},'risk-row-label-low');
  label(g,c.riskLabelX-3,c.riskY[1],'H',{fs:25,anchor:'start',fill:'#3aa0d0'},'risk-row-label-high');
  label(g,f.left+1,c.numberAtRiskY,'Number at risk',{fs:21,bold:true,anchor:'start',w:c.numberAtRiskW,fill:'#111'},'risk-table-title');
  label(g,c.xTitle[0],c.xTitle[1],c.xTitleText,{fs:28},'x-axis-title');
  yAxisTitle(g,c.yTitleX,3128,'Survival probability',243);
  add(g,'rect',{x:c.legend.x,y:c.legend.y1,width:c.legend.w,height:c.legend.h,fill:'#e84a2e'},'legend-swatch-low');
  add(g,'rect',{x:c.legend.x,y:c.legend.y2,width:c.legend.w,height:c.legend.h,fill:'#3fb0d8'},'legend-swatch-high');
  label(g,c.legend.tx,c.legend.b1,'L',{fs:28,anchor:'start',fill:'#d8143c'},'legend-entry-low');
  label(g,c.legend.tx,c.legend.b2,'H',{fs:28,anchor:'start',fill:'#2c7bb6'},'legend-entry-high');
  label(g,c.note[0],c.note[1],'CXCL1 expression levels',{fs:23,bold:true,anchor:'start',w:c.note[2],fill:'#111'},'legend-caption');
  label(g,c.p[0],c.p[1],c.p[3],{fs:24,bold:true,anchor:'start',w:c.p[2],fill:'#111'},'p-value');
  label(g,c.p[0]+c.p[2],c.p[1]-8,c.p[4],{fs:14,bold:true,anchor:'start',fill:'#111'},'p-value-exponent');
  label(g,c.hr[0],c.hr[1],c.hr[3],{fs:24,bold:true,anchor:'start',w:c.hr[2],fill:'#111'},'hazard-ratio');
  return {g:g};
}
const LOW_RIBBON='#fad3ce',HIGH_RIBBON='#d6edf6',LOW_LINE='#c8463a',HIGH_LINE='#3fa3c3';

const kPanel=drawSurvivalPanel('panel-k',{frame:{left:133.4,right:601,top:2923,bottom:3297.6,riskBottom:3363},xDomain:[0,148],xRange:[143.6,587.5],yRange:[3279,2942],
  survTicks:kSurvTicks,survLabels:kSurvLabels,timeTicks:kTimeTicks,tickLen:5.7,tickLabelRight:121.6,tickLabelNudge:[1.5,-2,4,-2,-1],tickLabelY:3394,firstRiskNudge:8,
  low:{key:'low',time:kLowTime,surv:kLowSurv,upTime:kLowUpTime,upSurv:kLowUpSurv,downTime:kLowDownTime,downSurv:kLowDownSurv,censor:kLowCensor,risk:kRiskLow,ribbon:LOW_RIBBON,line:LOW_LINE},
  high:{key:'high',time:kHighTime,surv:kHighSurv,upTime:kHighUpTime,upSurv:kHighUpSurv,downTime:kHighDownTime,downSurv:kHighDownSurv,censor:kHighCensor,risk:kRiskHigh,ribbon:HIGH_RIBBON,line:HIGH_LINE},
  dotY:[3319.7,3341.5],riskY:[3340,3360],riskLabelX:116,numberAtRiskY:3317.5,numberAtRiskW:148,xTitle:[364,3422],xTitleText:'OS',yTitleX:56,
  legend:{x:505,y1:2948,y2:2977.7,w:20,h:20.5,tx:530,b1:2967.7,b2:2999.8},note:[353,3222.8,243],p:[143.6,3242,105,'P=3.7×10','-4'],hr:[143.6,3278,263,'HR=1.75,95CI%(1.28,2.40)']});
panelLetter(kPanel.g,14,2930,'K');

const lPanel=drawSurvivalPanel('panel-l',{frame:{left:706.7,right:1188,top:2925,bottom:3310,riskBottom:3377.6},xDomain:[0,148],xRange:[718,1174.6],yRange:[3291,2945],
  survTicks:lSurvTicks,survLabels:lSurvLabels,timeTicks:lTimeTicks,tickLen:7.5,tickLabelRight:697.5,tickLabelNudge:[1.6,-5.7,-4,2.6,-6],tickLabelY:3412.6,firstRiskNudge:12,
  low:{key:'low',time:lLowTime,surv:lLowSurv,upTime:lLowUpTime,upSurv:lLowUpSurv,downTime:lLowDownTime,downSurv:lLowDownSurv,censor:lLowCensor,risk:lRiskLow,ribbon:LOW_RIBBON,line:LOW_LINE},
  high:{key:'high',time:lHighTime,surv:lHighSurv,upTime:lHighUpTime,upSurv:lHighUpSurv,downTime:lHighDownTime,downSurv:lHighDownSurv,censor:lHighCensor,risk:lRiskHigh,ribbon:HIGH_RIBBON,line:HIGH_LINE},
  dotY:[3332.6,3355.5],riskY:[3350.7,3374],riskLabelX:687.6,numberAtRiskY:3328.6,numberAtRiskW:152,xTitle:[941.4,3444],xTitleText:'DSS',yTitleX:630.5,
  legend:{x:1133.5,y1:2944.5,y2:2963,w:15,h:14.6,tx:1151,b1:2955,b2:2980},note:[916,3235.7,249.5],p:[711,3270,104.7,'P=7.4×10','-4'],hr:[712.8,3300,270,'HR=1.96,95CI%(1.32,2.93)']});
panelLetter(lPanel.g,624,2930,'L');

const mPanel=drawSurvivalPanel('panel-m',{frame:{left:1301,right:1779,top:2923.5,bottom:3305,riskBottom:3371},xDomain:[0,132],xRange:[1312.6,1760.7],yRange:[3286.6,2942.7],
  survTicks:mSurvTicks,survLabels:mSurvLabels,timeTicks:mTimeTicks,tickLen:7.5,tickLabelRight:1292,tickLabelNudge:[0,3.4,5.3,-2.7,-0.7],tickLabelY:3405,firstRiskNudge:10,
  low:{key:'low',time:mLowTime,surv:mLowSurv,upTime:mLowUpTime,upSurv:mLowUpSurv,downTime:mLowDownTime,downSurv:mLowDownSurv,censor:mLowCensor,risk:mRiskLow,ribbon:LOW_RIBBON,line:LOW_LINE},
  high:{key:'high',time:mHighTime,surv:mHighSurv,upTime:mHighUpTime,upSurv:mHighUpSurv,downTime:mHighDownTime,downSurv:mHighDownSurv,censor:mHighCensor,risk:mRiskHigh,ribbon:HIGH_RIBBON,line:HIGH_LINE},
  dotY:[3327,3349],riskY:[3348,3370],riskLabelX:1286,numberAtRiskY:3325.3,numberAtRiskW:150,xTitle:[1545,3433],xTitleText:'PFS',yTitleX:1223,
  legend:{x:1718.8,y1:2949.3,y2:2975,w:22,h:20.4,tx:1743,b1:2968.5,b2:2997},note:[1510.7,3224.6,245.3],p:[1308.8,3257.8,103,'P=2.7×10','-3'],hr:[1308.8,3287,264,'HR=1.63,95CI%(1.18,2.25)']});
panelLetter(mPanel.g,1216,2930,'M');
</script>
</body>
</html>
